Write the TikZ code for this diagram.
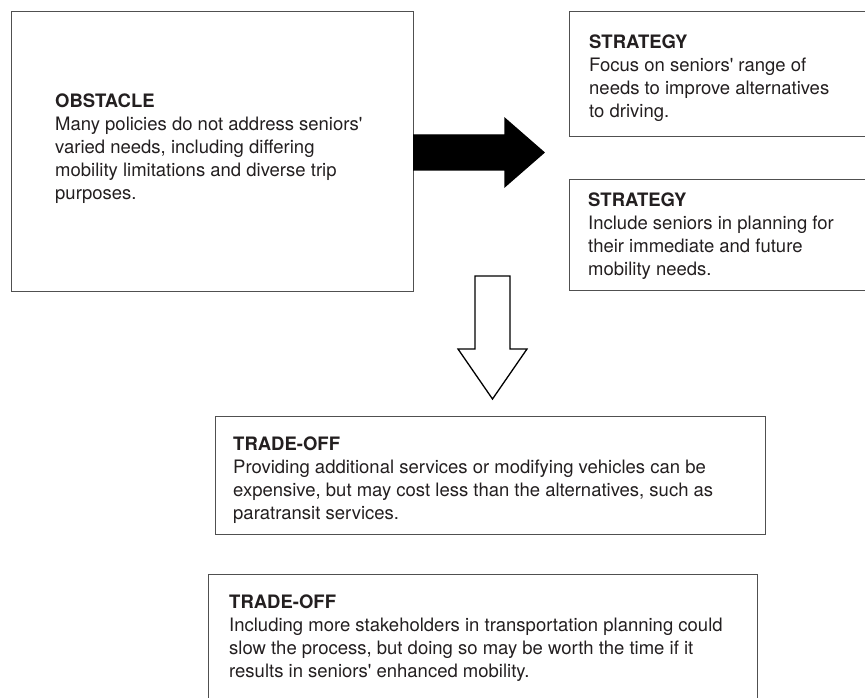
\documentclass[tikz,border=0pt]{standalone}
\usepackage{fontspec}
\setmainfont{TeX Gyre Heros}[Ligatures=TeXOff]
\usetikzlibrary{positioning}
\definecolor{inkgray}{HTML}{231F20}
\definecolor{framegray}{HTML}{505050}
\tikzset{
	box/.style={draw=framegray,line width=1.2pt,rectangle,inner sep=0pt,anchor=north west},
	boxtext/.style={inner sep=0pt,align=left,text=inkgray,font=\fontsize{18.5}{23}\selectfont},
	blockarrow/.style={draw=black,line width=1.3pt,line join=miter}
}
\begin{document}
\begin{tikzpicture}[x=1pt,y=-1pt]
	\useasboundingbox (0,0) rectangle (865,698);
	\clip (0,0) rectangle (865,698);
	% boxes
	\node[box,minimum width=402pt,minimum height=280pt](obstacle) at (11,11){};
	\node[box,minimum width=320pt,minimum height=125pt](strategyA) at (569,11){};
	\node[box,minimum width=320pt,minimum height=111pt](strategyB) at (569,179){};
	\node[box,minimum width=550pt,minimum height=118pt](tradeA) at (215,416){};
	\node[box,minimum width=549pt,minimum height=140pt](tradeB) at (208,574){};
	% texts
	\node[boxtext,below right=83pt and 44pt of obstacle.north west](obstacletext){\textbf{OBSTACLE}\\Many policies do not address seniors'\\varied needs, including differing\\mobility limitations and diverse trip\\purposes.};
	\node[boxtext,below right=24pt and 20pt of strategyA.north west](strategyAtext){\textbf{STRATEGY}\\Focus on seniors' range of\\needs to improve alternatives\\to driving.};
	\node[boxtext,below right=14pt and 19pt of strategyB.north west](strategyBtext){\textbf{STRATEGY}\\Include seniors in planning for\\their immediate and future\\mobility needs.};
	\node[boxtext,below right=21pt and 18pt of tradeA.north west](tradeAtext){\textbf{TRADE-OFF}\\Providing additional services or modifying vehicles can be\\expensive, but may cost less than the alternatives, such as\\paratransit services.};
	\node[boxtext,below right=21pt and 21pt of tradeB.north west](tradeBtext){\textbf{TRADE-OFF}\\Including more stakeholders in transportation planning could\\slow the process, but doing so may be worth the time if it\\results in seniors' enhanced mobility.};
	% arrows
	\coordinate (pushtail) at (413,152.5);
	\coordinate (pushtip) at (544,152.5);
	\draw[blockarrow,fill=black] ([yshift=17.5pt]pushtail) -- ([xshift=-39pt,yshift=17.5pt]pushtip) -- ([xshift=-39pt,yshift=34pt]pushtip) -- (pushtip) -- ([xshift=-39pt,yshift=-34pt]pushtip) -- ([xshift=-39pt,yshift=-17.5pt]pushtip) -- ([yshift=-17.5pt]pushtail);
	\coordinate (downtail) at (492.5,276);
	\coordinate (downtip) at (492.5,399);
	\draw[blockarrow,fill=white] ([xshift=-17.5pt]downtail) -- ([xshift=17.5pt]downtail) -- ([xshift=17.5pt,yshift=50pt]downtip) -- ([xshift=34.5pt,yshift=50pt]downtip) -- (downtip) -- ([xshift=-34.5pt,yshift=50pt]downtip) -- ([xshift=-17.5pt,yshift=50pt]downtip) -- cycle;
\end{tikzpicture}
\end{document}
